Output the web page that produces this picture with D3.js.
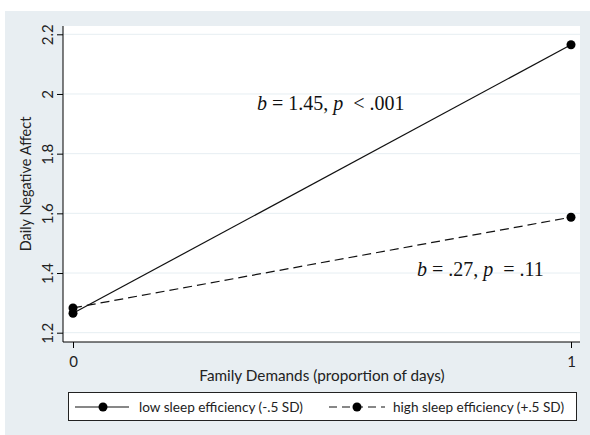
<!DOCTYPE html>
<html><head><meta charset="utf-8">
<script src="https://cdn.jsdelivr.net/npm/d3@7"></script>
<style>body{margin:0;background:#fff}svg{display:block}</style>
</head><body><svg id="c" width="590" height="435"></svg>
<script>
const xCategories = [0, 1];
const xTickLabels = ["0", "1"];
const yTicks = [1.2, 1.4, 1.6, 1.8, 2, 2.2];
const yTickLabels = ["1.2", "1.4", "1.6", "1.8", "2", "2.2"];
const lowSleep = [1.265, 2.165];
const highSleep = [1.283, 1.587];
const seriesNames = ["low sleep efficiency (-.5 SD)", "high sleep efficiency (+.5 SD)"];

const svg = d3.select("#c");
const sans = "Lato, 'Open Sans', sans-serif";
svg.append("rect").attr("x",5).attr("y",11).attr("width",585).attr("height",424).attr("fill","#e8eef2");
const L=63,T=26,R=580,B=342;
svg.append("rect").attr("x",L).attr("y",T).attr("width",R-L).attr("height",B-T).attr("fill","#fff");
const x = d3.scaleLinear().domain([0,1]).range([73,571]);
const y = d3.scaleLinear().domain([1.2,2.2]).range([332.7,34.3]);

// gridlines
svg.append("g").selectAll("line").data(yTicks).join("line")
  .attr("x1",L).attr("x2",R).attr("y1",d=>y(d)).attr("y2",d=>y(d))
  .attr("stroke","#e6eef2").attr("stroke-width",1);

const yAxis = svg.append("g").attr("transform",`translate(${L},0)`)
  .call(d3.axisLeft(y).tickValues(yTicks).tickFormat((d,i)=>yTickLabels[i]).tickSize(6).tickPadding(4));
yAxis.select(".domain").attr("d",`M0,${T}V${B}`);
yAxis.selectAll(".tick text").attr("transform","rotate(-90)").attr("text-anchor","middle")
  .attr("x",0).attr("y",-10).attr("dy","0").style("font-family",sans).style("font-size","15px").attr("fill","#222");

const xAxis = svg.append("g").attr("transform",`translate(0,${B})`)
  .call(d3.axisBottom(x).tickValues(xCategories).tickFormat((d,i)=>xTickLabels[i]).tickSize(6).tickPadding(8));
xAxis.select(".domain").attr("d",`M${L},0H${R}`);
xAxis.selectAll(".tick text").style("font-family",sans).style("font-size","15px").attr("fill","#222");

svg.append("text").attr("transform","translate(31,184) rotate(-90)").attr("text-anchor","middle")
  .style("font-family",sans).style("font-size","14.5px").attr("fill","#222").text("Daily Negative Affect");
svg.append("text").attr("x",322).attr("y",381).attr("text-anchor","middle")
  .style("font-family",sans).style("font-size","15.3px").attr("fill","#222").text("Family Demands (proportion of days)");

const line = d3.line().x((d,i)=>x(xCategories[i])).y(d=>y(d));
svg.append("path").attr("d",line(highSleep)).attr("fill","none").attr("stroke","#111").attr("stroke-width",1.2).attr("stroke-dasharray","9,5");
svg.append("path").attr("d",line(lowSleep)).attr("fill","none").attr("stroke","#111").attr("stroke-width",1.2);
[lowSleep, highSleep].forEach(s=>{
  svg.append("g").selectAll("circle").data(s).join("circle")
    .attr("cx",(d,i)=>x(xCategories[i])).attr("cy",d=>y(d)).attr("r",4.5).attr("fill","#000");
});

// annotations
function annot(xp, yp, parts){
  const t = svg.append("text").attr("x",xp).attr("y",yp).attr("xml:space","preserve")
    .style("white-space","pre")
    .style("font-family","'Liberation Serif', 'Times New Roman', serif").style("font-size","20px").attr("fill","#111");
  parts.forEach(p=>t.append("tspan").attr("font-style",p[1]?"italic":"normal").text(p[0]));
}
annot(257,110,[["b",1],[" = 1.45, ",0],["p",1],["  < .001",0]]);
annot(417,276,[["b",1],[" = .27, ",0],["p",1],["  = .11",0]]);

// legend
svg.append("rect").attr("x",68.5).attr("y",392.5).attr("width",508).attr("height",28).attr("fill","#fff").attr("stroke","#222").attr("stroke-width",1);
const ly = 407;
svg.append("line").attr("x1",75).attr("x2",129).attr("y1",ly).attr("y2",ly).attr("stroke","#111").attr("stroke-width",1.2);
svg.append("circle").attr("cx",103).attr("cy",ly).attr("r",4.5).attr("fill","#000");
svg.append("text").attr("x",139).attr("y",ly+5).style("font-family",sans).style("font-size","13.6px").attr("fill","#222").text(seriesNames[0]);
svg.append("line").attr("x1",329).attr("x2",385).attr("y1",ly).attr("y2",ly).attr("stroke","#111").attr("stroke-width",1.2).attr("stroke-dasharray","8,5");
svg.append("circle").attr("cx",357).attr("cy",ly).attr("r",4.5).attr("fill","#000");
svg.append("text").attr("x",393).attr("y",ly+5).style("font-family",sans).style("font-size","13.6px").attr("fill","#222").text(seriesNames[1]);
</script></body></html>
